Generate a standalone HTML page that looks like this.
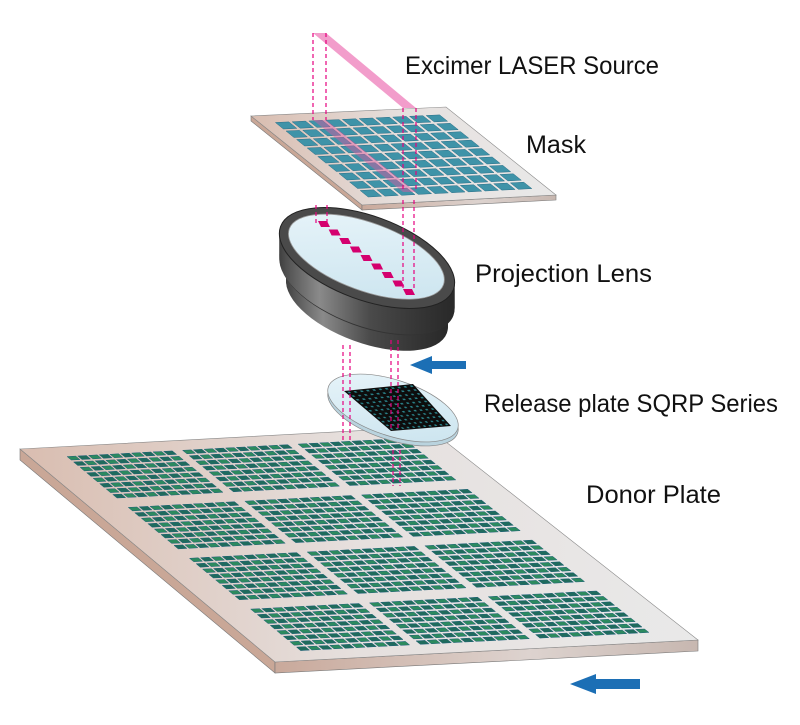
<!DOCTYPE html>
<html><head><meta charset="utf-8"><style>
html,body{margin:0;padding:0;background:#fff;}
svg{display:block}
text{font-family:"Liberation Sans",sans-serif;fill:#111;}
</style></head><body>
<svg id="s" width="800" height="725" viewBox="0 0 800 725" xmlns="http://www.w3.org/2000/svg">
<defs>
<linearGradient id="pl" x1="0" y1="0" x2="1" y2="0">
<stop offset="0" stop-color="#d9bdb0"/><stop offset="0.5" stop-color="#e6e0de"/><stop offset="1" stop-color="#e9e9e9"/></linearGradient>
<linearGradient id="ed" x1="0" y1="0" x2="1" y2="0">
<stop offset="0" stop-color="#c9a99b"/><stop offset="0.6" stop-color="#ddd3cf"/><stop offset="1" stop-color="#c7b7b0"/></linearGradient>
<linearGradient id="body" x1="0" y1="0" x2="1" y2="0">
<stop offset="0" stop-color="#3b3b3b"/><stop offset="0.3" stop-color="#8a8a8a"/><stop offset="0.6" stop-color="#4a4a4a"/><stop offset="1" stop-color="#2a2a2a"/></linearGradient>
<linearGradient id="glass" x1="0" y1="0" x2="1" y2="1">
<stop offset="0" stop-color="#e9f5fa"/><stop offset="1" stop-color="#c9e3ee"/></linearGradient>
</defs>
<g id="donor"></g>
<g id="mask"></g>
<g id="beam"></g>
<g id="lens"></g>
<g id="rel"></g>
<g id="dash" fill="none" stroke="#e6007e" stroke-width="1.2" stroke-dasharray="4 3"></g>
<polygon points="410,365 432,356 432,361 466,361 466,369 432,369 432,374" fill="#1c6fb5"/>
<polygon points="570,684 596,674 596,679 640,679 640,689 596,689 596,694" fill="#1c6fb5"/>
<text x="405" y="74" font-size="25" textLength="254" lengthAdjust="spacingAndGlyphs">Excimer LASER Source</text>
<text x="526" y="153" font-size="25" textLength="60" lengthAdjust="spacingAndGlyphs">Mask</text>
<text x="475" y="282" font-size="25" textLength="177" lengthAdjust="spacingAndGlyphs">Projection Lens</text>
<text x="484" y="412" font-size="25" textLength="294" lengthAdjust="spacingAndGlyphs">Release plate SQRP Series</text>
<text x="586" y="503" font-size="25" textLength="135" lengthAdjust="spacingAndGlyphs">Donor Plate</text>
</svg>
<script>
var NS="http://www.w3.org/2000/svg";
function el(p,t,a){var e=document.createElementNS(NS,t);for(var k in a)e.setAttribute(k,a[k]);p.appendChild(e);return e;}
function bl(Q,u,v){return [Q[0][0]*(1-u)*(1-v)+Q[1][0]*u*(1-v)+Q[2][0]*u*v+Q[3][0]*(1-u)*v,
Q[0][1]*(1-u)*(1-v)+Q[1][1]*u*(1-v)+Q[2][1]*u*v+Q[3][1]*(1-u)*v];}
function poly(Q,u0,v0,u1,v1){var a=[bl(Q,u0,v0),bl(Q,u1,v0),bl(Q,u1,v1),bl(Q,u0,v1)];return a.map(function(p){return p[0].toFixed(1)+","+p[1].toFixed(1)}).join(" ");}
function pts(a){return a.map(function(p){return p.join(",")}).join(" ");}
function plate(g,Q,t){
 el(g,"polygon",{points:pts([Q[0],Q[3],[Q[3][0],Q[3][1]+t],[Q[0][0],Q[0][1]+t]]),fill:"#c9a797",stroke:"#777","stroke-width":0.6});
 el(g,"polygon",{points:pts([Q[3],Q[2],[Q[2][0],Q[2][1]+t],[Q[3][0],Q[3][1]+t]]),fill:"url(#ed)",stroke:"#777","stroke-width":0.6});
 el(g,"polygon",{points:pts(Q),fill:"url(#pl)",stroke:"#888","stroke-width":0.6});
}
var D=[[20,449],[427,427],[698,640],[275,662]];
var g=document.getElementById("donor");plate(g,D,11);
var BU=3,BV=4,mu=0.085,mv=0.04,gu=0.02,gv=0.035;
var bw=(1-2*mu-(BU-1)*gu)/BU,bh=(1-2*mv-(BV-1)*gv)/BV;
for(var bi=0;bi<BU;bi++)for(var bj=0;bj<BV;bj++){
 var u0=mu+bi*(bw+gu),v0=mv+bj*(bh+gv),nc=10,nr=8;
 for(var i=0;i<nc;i++)for(var j=0;j<nr;j++){
  var cu=bw/nc,cv=bh/nr;
  el(g,"polygon",{points:poly(D,u0+i*cu+cu*0.1,v0+j*cv+cv*0.18,u0+(i+1)*cu-cu*0.1,v0+(j+1)*cv-cv*0.18),fill:((i+j)%2?"#1f6b5c":"#2c8a5e"),stroke:"#1d5f7a","stroke-width":0.5});
 }
}
var M=[[251,116],[446,107],[556,195],[362,205]];
g=document.getElementById("mask");plate(g,M,5);
for(var i=0;i<10;i++)for(var j=0;j<9;j++){
 var m=0.07,cu=(1-2*m)/10,cv=(1-2*m)/9;
 el(g,"polygon",{points:poly(M,m+i*cu+cu*0.1,m+j*cv+cv*0.12,m+(i+1)*cu-cu*0.1,m+(j+1)*cv-cv*0.12),fill:"#3f93a8",stroke:"#2a6f88","stroke-width":0.5});
}
el(g,"polygon",{points:"313,120 326,120 416,192 403,192",fill:"#e0569f","fill-opacity":0.45});
g=document.getElementById("beam");
el(g,"polygon",{points:"313,33 326,33 416,108 403,108",fill:"#f08cc2","fill-opacity":0.85});
g=document.getElementById("lens");
var cx=367,cy=258;
for(var k=46;k>=27;k--)el(g,"ellipse",{cx:cx,cy:cy+k,rx:85,ry:39,transform:"rotate(20 "+cx+" "+(cy+k)+")",fill:"url(#body)"});
el(g,"ellipse",{cx:cx,cy:cy+27,rx:91,ry:42,transform:"rotate(20 "+cx+" "+(cy+27)+")",fill:"#333"});
for(var k=26;k>=1;k--)el(g,"ellipse",{cx:cx,cy:cy+k,rx:92,ry:42,transform:"rotate(20 "+cx+" "+(cy+k)+")",fill:"url(#body)"});
el(g,"ellipse",{cx:cx,cy:cy,rx:92,ry:42,transform:"rotate(20 "+cx+" "+cy+")",fill:"#4a4a4a",stroke:"#222","stroke-width":1});
el(g,"ellipse",{cx:cx-1,cy:cy-1,rx:82,ry:34,transform:"rotate(20 "+cx+" "+cy+")",fill:"url(#glass)",stroke:"#999","stroke-width":0.8});
for(var i=0;i<9;i++){var t=i/8,x=323+(408-323)*t,y=224+(292-224)*t;
 el(g,"polygon",{points:pts([[x-5,y-3],[x+4,y-3],[x+7,y+3],[x-2,y+3]]),fill:"#d4006e"});}
g=document.getElementById("rel");
var rx=393,ry=408;
el(g,"ellipse",{cx:rx,cy:ry+4,rx:68,ry:28,transform:"rotate(18 "+rx+" "+(ry+4)+")",fill:"#b9d3de",stroke:"#888","stroke-width":0.7});
el(g,"ellipse",{cx:rx,cy:ry,rx:68,ry:28,transform:"rotate(18 "+rx+" "+ry+")",fill:"url(#glass)",stroke:"#888","stroke-width":0.7});
var R=[[344,391],[413,384],[451,426],[391,431]];
el(g,"polygon",{points:pts(R),fill:"#0d0d0d"});
for(var i=0;i<11;i++)for(var j=0;j<11;j++)
 el(g,"polygon",{points:poly(R,(i+0.3)/11,(j+0.3)/11,(i+0.7)/11,(j+0.7)/11),fill:"#2a7f86"});
g=document.getElementById("dash");
[[313,33,313,120],[326,33,326,120],[403,108,403,192],[416,108,416,192],
 [316,205,316,225],[327,205,327,225],[403,200,403,291],[414,200,414,291],
 [343,345,343,440],[350,345,350,440],[391,340,391,430],[398,340,398,430],
 [393,450,393,486],[400,450,400,486]].forEach(function(l){el(g,"line",{x1:l[0],y1:l[1],x2:l[2],y2:l[3]});});
</script>
</body></html>
